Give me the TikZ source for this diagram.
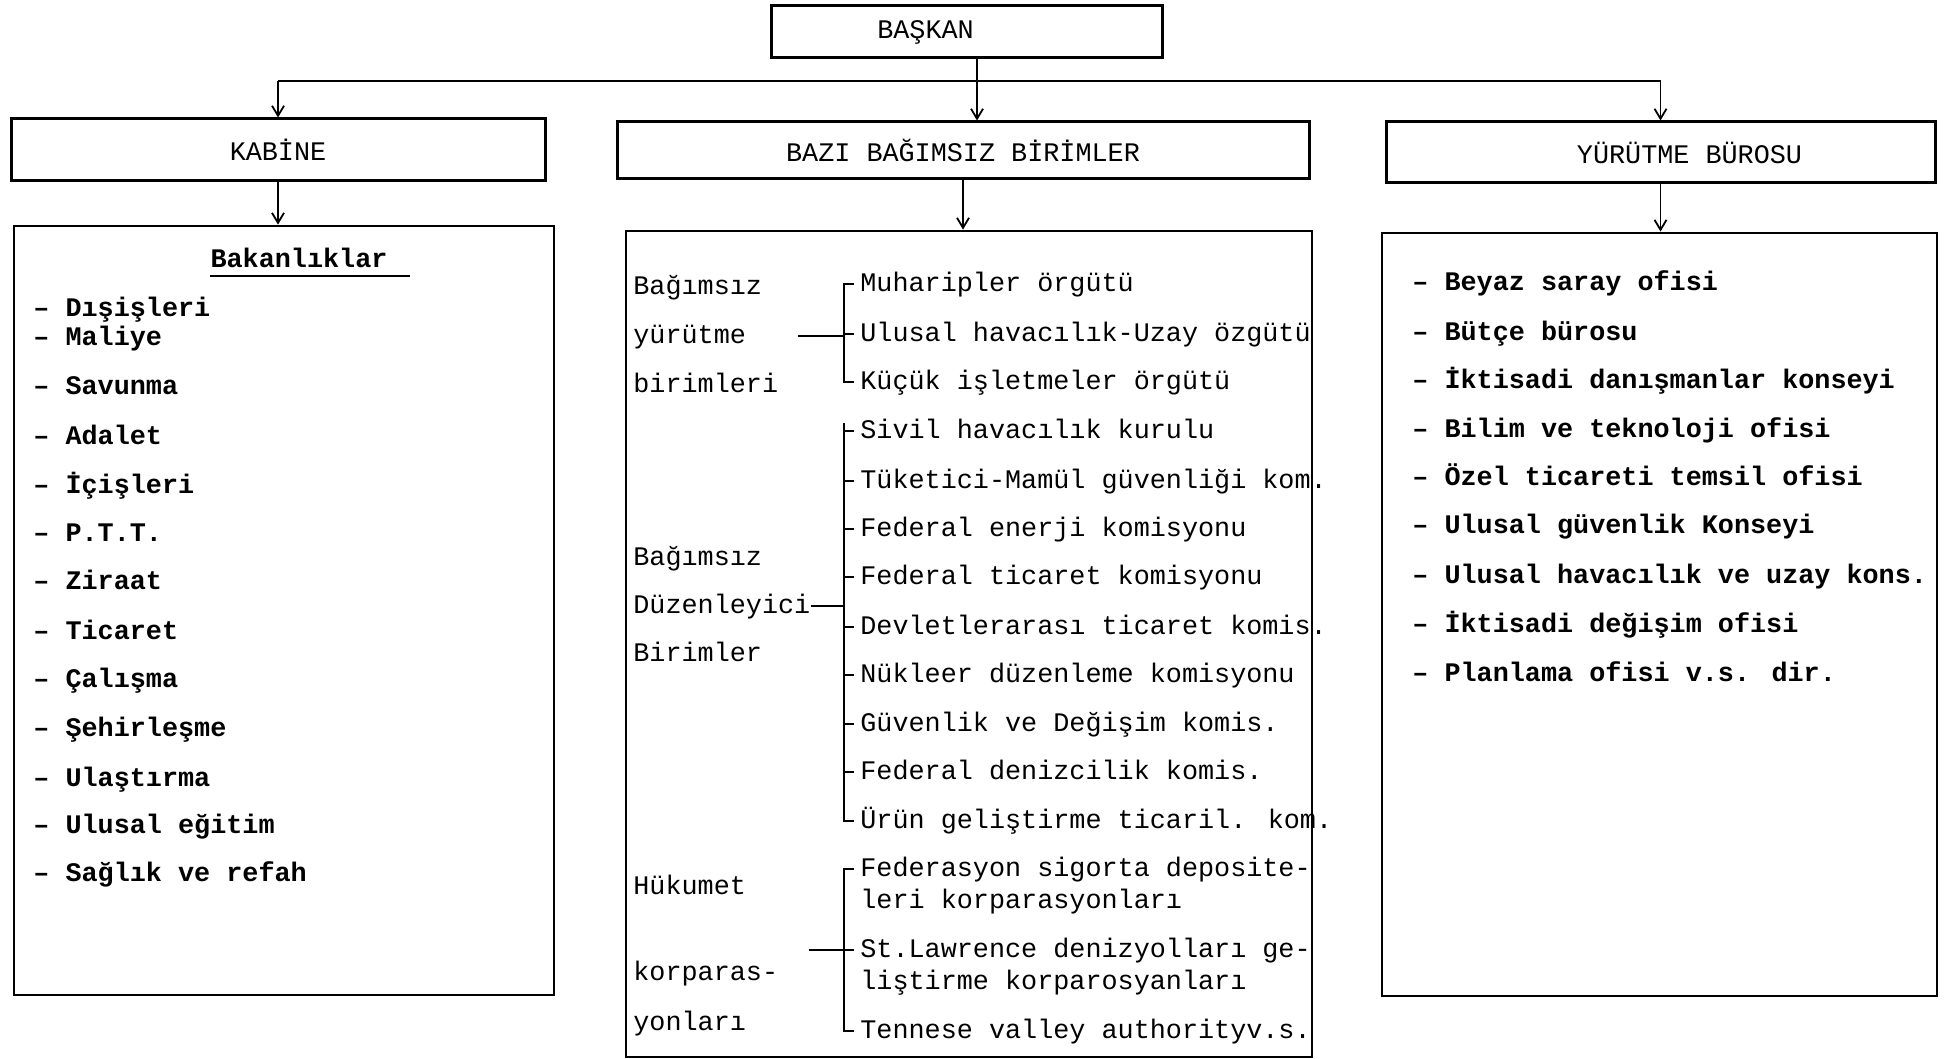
\documentclass[tikz,border=0pt]{standalone}
\usepackage{fontspec}
\newfontfamily\typewr{Liberation Mono}
\usetikzlibrary{arrows.meta,positioning}

\begin{document}
\begin{tikzpicture}[
  x=0.5pt, y=-0.5pt,
  head/.style={draw, line width=1.5pt, inner sep=0pt,
               font=\typewr\fontsize{13.4}{16}\selectfont},
  panel/.style={draw, line width=1.4pt, inner sep=0pt},
  item/.style={anchor=west, inner sep=0pt, text height=9.5pt, text depth=2.5pt,
               font=\typewr\bfseries\fontsize{13.4}{16}\selectfont},
  unit/.style={anchor=west, inner sep=3pt, text height=9.5pt, text depth=2.5pt,
               font=\typewr\fontsize{13.4}{16}\selectfont},
  grp/.style={anchor=west, inner sep=0pt, text height=9.5pt, text depth=2.5pt,
              font=\typewr\fontsize{13.4}{16}\selectfont},
  title/.style={inner sep=0pt, text height=9.5pt, text depth=2.5pt,
                font=\typewr\bfseries\fontsize{13.4}{16}\selectfont},
  arr/.style={-{Straight Barb[length=5pt,width=6pt]}, line width=0.9pt},
  brk/.style={line width=0.8pt}
]
\useasboundingbox (0,0) rectangle (1947,1059);

% top level
\node[head, minimum width=195.5pt, minimum height=26pt] (baskan) at (966.5,32) {BAŞKAN\hspace*{41pt}};
\node[head, minimum width=267pt, minimum height=31pt] (kabine) at (278,150) {KABİNE};
\node[head, minimum width=346pt, minimum height=28.5pt] (bazi) at (963,150.5) {BAZI BAĞIMSIZ BİRİMLER};
\node[head, minimum width=274.5pt, minimum height=30.5pt] (yurutme) at (1660.5,152.5) {\hspace*{29pt}YÜRÜTME BÜROSU};

% the three lists
\node[panel, minimum width=270pt, minimum height=384.5pt] (bakan) at (284,610.5) {};
\node[panel, minimum width=343pt, minimum height=413pt] (birim) at (969,644) {};
\node[panel, minimum width=277.5pt, minimum height=381.5pt] (ofis) at (1659.5,614.5) {};

\coordinate (split) at (977,81);
\draw[line width=0.9pt] (kabine.north |- split) -- (yurutme.north |- split);
\draw[arr] (baskan.south -| split) -- (bazi.north -| split);
\draw[arr] (kabine.north |- split) -- (kabine.north);
\draw[arr] (yurutme.north |- split) -- (yurutme.north);
\draw[arr] (kabine.south) -- (kabine.south |- bakan.north);
\draw[arr] (bazi.south) -- (bazi.south |- birim.north);
\draw[arr] (yurutme.south) -- (yurutme.south |- ofis.north);

% Bakanliklar
\node[title] (bslk) at (299,260) {Bakanlıklar};
\draw[line width=1pt] ([yshift=-2pt]bslk.south west) -- ([yshift=-2pt,xshift=11pt]bslk.south east);
\foreach \y/\t [count=\i] in {309/Dışişleri, 338/Maliye, 387/Savunma, 437/Adalet,
    486/İçişleri, 534/P.T.T., 582/Ziraat, 632/Ticaret, 680/Çalışma, 729/Şehirleşme,
    779/Ulaştırma, 826/Ulusal eğitim, 874/Sağlık ve refah}
  \node[item] (b\i) at (33,\y) {– \t};

% yurutme burosu
\foreach \y/\t [count=\i] in {283/Beyaz saray ofisi, 333/Bütçe bürosu,
    381/İktisadi danışmanlar konseyi, 430/Bilim ve teknoloji ofisi,
    478/Özel ticareti temsil ofisi, 526/Ulusal güvenlik Konseyi,
    576/Ulusal havacılık ve uzay kons., 625/İktisadi değişim ofisi,
    674/Planlama ofisi v.s. dir.}
  \node[item] (o\i) at (1412,\y) {– \t};

% bagimsiz birimler
\node[grp] (g1a) at (633,287) {Bağımsız};
\node[grp] (g1b) at (633,336) {yürütme};
\node[grp] (g1c) at (633,385) {birimleri};
\node[grp] (g2a) at (633,558) {Bağımsız};
\node[grp] (g2b) at (633,606) {Düzenleyici};
\node[grp] (g2c) at (633,654) {Birimler};
\node[grp] (g3a) at (633,887) {Hükumet};
\node[grp] (g3b) at (633,973) {korparas-};
\node[grp] (g3c) at (633,1023) {yonları};

\foreach \y/\t [count=\i] in {284/Muharipler örgütü, 334/Ulusal havacılık-Uzay özgütü,
    382/Küçük işletmeler örgütü, 431/Sivil havacılık kurulu,
    481/Tüketici-Mamül güvenliği kom., 529/Federal enerji komisyonu,
    577/Federal ticaret komisyonu, 627/Devletlerarası ticaret komis.,
    675/Nükleer düzenleme komisyonu, 724/Güvenlik ve Değişim komis.,
    772/Federal denizcilik komis., 821/Ürün geliştirme ticaril. kom.,
    869/Federasyon sigorta deposite-, 950/St.Lawrence denizyolları ge-,
    1031/Tennese valley authorityv.s.}
  \node[unit] (m\i) at (854,\y) {\t};
\node[unit] (m13b) at (854,901) {leri korparasyonları};
\node[unit] (m14b) at (854,982) {liştirme korparosyanları};

% brackets
\coordinate (brx) at (844,0);
\draw[brk] (m1.west) -- ++(-10,0) |- (m3.west);
\draw[brk] (m2.west) -- ++(-10,0);
\draw[brk] ([xshift=-5pt,yshift=4pt]m4.west) |- (m12.west);
\foreach \i in {4,...,11}
  \draw[brk] (m\i.west) -- ++(-10,0);
\draw[brk] (m13.west) -- ++(-10,0) |- (m15.west);
\draw[brk] (m14.west) -- ++(-10,0);

\draw[brk] (g1b.east) ++(52,0) -- (g1b.east -| brx);
\draw[brk] (g2b.east) -- (g2b.east -| brx);
\draw[brk] (g3b.east |- m14.west) ++(30,0) -- (m14.west -| brx);
\end{tikzpicture}
\end{document}
